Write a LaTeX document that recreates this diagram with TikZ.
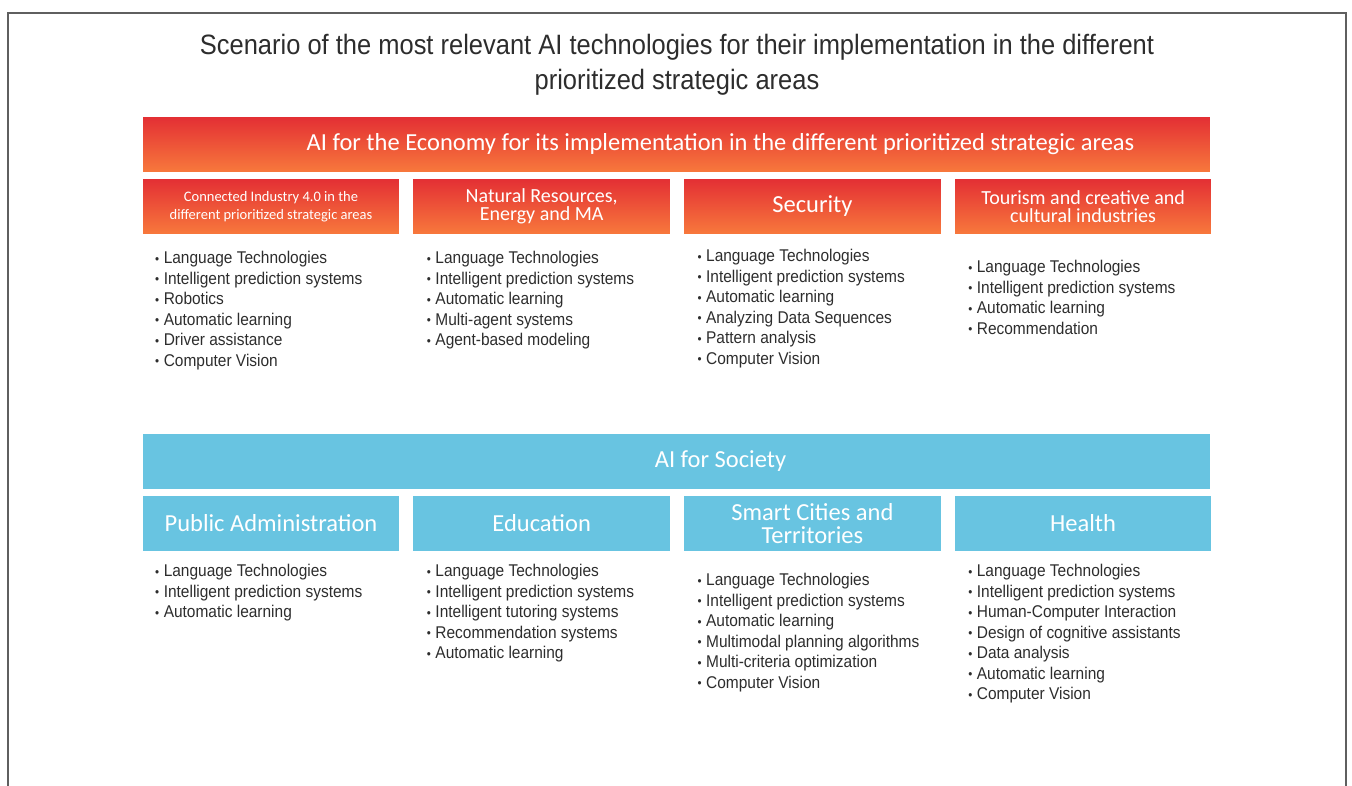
\documentclass[tikz,border=0pt]{standalone}
\usepackage{fontspec}
\setmainfont{Carlito}
\newfontfamily\narrowfont[FakeStretch=0.91]{Liberation Sans}
\usetikzlibrary{positioning}

\definecolor{ecotop}{RGB}{227,46,52}
\definecolor{ecobot}{RGB}{248,122,60}
\definecolor{socblue}{RGB}{104,196,225}
\definecolor{framegrey}{RGB}{95,95,95}
\definecolor{listgrey}{RGB}{45,45,45}

\newcommand{\itm}[1]{\raisebox{0.5pt}{\scalebox{0.75}{\textbullet}}\hspace{4.5pt}#1}

\tikzset{
  ecobar/.style={top color=ecotop, bottom color=ecobot, draw=white, line width=1.5pt,
    outer sep=0pt, text=white, inner sep=0pt, align=center, minimum height=57pt},
  socbar/.style={fill=socblue, draw=white, line width=1.5pt,
    outer sep=0pt, text=white, inner sep=0pt, align=center, minimum height=57pt},
  wide/.style={minimum width=1069pt},
  area/.style={minimum width=258pt},
  techlist/.style={align=left, inner sep=0pt, text=listgrey,
    font=\narrowfont\fontsize{17}{20.5}\selectfont}
}

\begin{document}
\begin{tikzpicture}[x=1pt, y=-1pt, node distance=12.7pt]

    \useasboundingbox (0,0) rectangle (1352,786);
    \draw[framegrey, line width=1.3pt] (8,800) -- (8,13) -- (1346,13) -- (1346,800);

    \node (title) at (677,65) [align=center, text=listgrey,
      font=\narrowfont\fontsize{28}{35}\selectfont]
      {Scenario of the most relevant AI technologies for their implementation in the different\\
       prioritized strategic areas};

    % economy
    \node (eco) at (676.5,144.5) [ecobar, wide, font=\fontsize{24.5}{28}\selectfont]
      {\hspace*{88pt}AI for the Economy for its implementation in the different prioritized strategic areas};
    \node (e1) [ecobar, area, below=5pt of eco.south west, anchor=north west,
      font=\fontsize{14.5}{18}\selectfont]
      {Connected Industry 4.0 in the\\different prioritized strategic areas};
    \node (e2) [ecobar, area, right=of e1, font=\fontsize{20}{18}\selectfont]
      {Natural Resources,\\Energy and MA};
    \node (e3) [ecobar, area, right=of e2, font=\fontsize{24.5}{28}\selectfont] {Security};
    \node (e4) [ecobar, area, right=of e3, font=\fontsize{20}{18}\selectfont]
      {Tourism and creative and\\cultural industries};

    \node (l1) [techlist, below right=16pt and 13pt of e1.south west]
      {\itm{Language Technologies}\\\itm{Intelligent prediction systems}\\\itm{Robotics}\\
       \itm{Automatic learning}\\\itm{Driver assistance}\\\itm{Computer Vision}};
    \node (l2) [techlist, below right=16pt and 14pt of e2.south west]
      {\itm{Language Technologies}\\\itm{Intelligent prediction systems}\\\itm{Automatic learning}\\
       \itm{Multi-agent systems}\\\itm{Agent-based modeling}};
    \node (l3) [techlist, below right=14pt and 14pt of e3.south west]
      {\itm{Language Technologies}\\\itm{Intelligent prediction systems}\\\itm{Automatic learning}\\
       \itm{Analyzing Data Sequences}\\\itm{Pattern analysis}\\\itm{Computer Vision}};
    \node (l4) [techlist, below right=25pt and 14pt of e4.south west]
      {\itm{Language Technologies}\\\itm{Intelligent prediction systems}\\\itm{Automatic learning}\\
       \itm{Recommendation}};

    % society
    \node (soc) at (676.5,461.5) [socbar, wide, font=\fontsize{24.5}{28}\selectfont]
      {\hspace*{88pt}AI for Society};
    \node (s1) [socbar, area, below=5pt of soc.south west, anchor=north west,
      font=\fontsize{24.5}{28}\selectfont] {Public Administration};
    \node (s2) [socbar, area, right=of s1, font=\fontsize{24.5}{28}\selectfont] {Education};
    \node (s3) [socbar, area, right=of s2, font=\fontsize{24.5}{23}\selectfont]
      {Smart Cities and\\Territories};
    \node (s4) [socbar, area, right=of s3, font=\fontsize{24.5}{28}\selectfont] {Health};

    \node (m1) [techlist, below right=12pt and 13pt of s1.south west]
      {\itm{Language Technologies}\\\itm{Intelligent prediction systems}\\\itm{Automatic learning}};
    \node (m2) [techlist, below right=12pt and 14pt of s2.south west]
      {\itm{Language Technologies}\\\itm{Intelligent prediction systems}\\\itm{Intelligent tutoring systems}\\
       \itm{Recommendation systems}\\\itm{Automatic learning}};
    \node (m3) [techlist, below right=21pt and 14pt of s3.south west]
      {\itm{Language Technologies}\\\itm{Intelligent prediction systems}\\\itm{Automatic learning}\\
       \itm{Multimodal planning algorithms}\\\itm{Multi-criteria optimization}\\\itm{Computer Vision}};
    \node (m4) [techlist, below right=12pt and 14pt of s4.south west]
      {\itm{Language Technologies}\\\itm{Intelligent prediction systems}\\\itm{Human-Computer Interaction}\\
       \itm{Design of cognitive assistants}\\\itm{Data analysis}\\\itm{Automatic learning}\\
       \itm{Computer Vision}};

\end{tikzpicture}
\end{document}
